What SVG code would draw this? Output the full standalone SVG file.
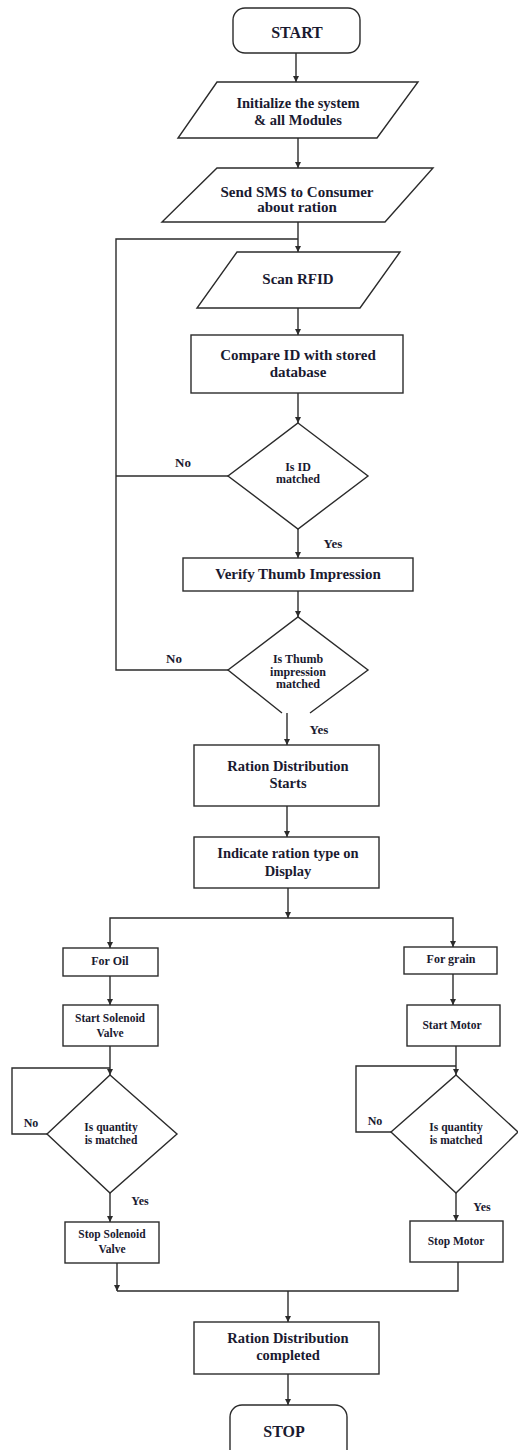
<svg xmlns="http://www.w3.org/2000/svg" width="518" height="1450" viewBox="0 0 518 1450">
<style>
.s{fill:#fff;stroke:#2b2b2b;stroke-width:1.4}
.c{fill:none;stroke:#2b2b2b;stroke-width:1.4}
text{font-family:"Liberation Serif","Times New Roman",serif;font-weight:bold;fill:#1a1a30;text-anchor:middle}
.f16{font-size:16px}.f15{font-size:15px}.f14{font-size:14.5px}.f12{font-size:12px}.f11{font-size:11.5px}.f13{font-size:13px}
</style>
<defs>
<marker id="ah" markerWidth="7" markerHeight="7" refX="6" refY="3" orient="auto" markerUnits="userSpaceOnUse">
<path d="M0,0 L6,3 L0,6 z" fill="#2b2b2b"/>
</marker>
</defs>
<rect width="518" height="1450" fill="#fff"/>
<g id="connectors" class="c">
<path d="M296,53 V82" marker-end="url(#ah)"/>
<path d="M298,138 V168" marker-end="url(#ah)"/>
<path d="M298,222 V252" marker-end="url(#ah)"/>
<path d="M298,308 V335" marker-end="url(#ah)"/>
<path d="M298,393 V423" marker-end="url(#ah)"/>
<path d="M298,529 V558" marker-end="url(#ah)"/>
<path d="M298,591 V617" marker-end="url(#ah)"/>
<path d="M287,713 V745" marker-end="url(#ah)"/>
<path d="M287,806 V837" marker-end="url(#ah)"/>
<path d="M288,888 V918" marker-end="url(#ah)"/>
<path d="M288,918 H110 V948" marker-end="url(#ah)"/>
<path d="M288,918 H453 V947" marker-end="url(#ah)"/>
<path d="M110,976 V1005" marker-end="url(#ah)"/>
<path d="M453,974 V1005" marker-end="url(#ah)"/>
<path d="M110,1046 V1075" marker-end="url(#ah)"/>
<path d="M456,1046 V1075" marker-end="url(#ah)"/>
<path d="M47,1134 H12 V1068 H110"/>
<path d="M391,1132 H356 V1066 H456"/>
<path d="M110,1193 V1222" marker-end="url(#ah)"/>
<path d="M456,1193 V1221" marker-end="url(#ah)"/>
<path d="M117,1263 V1291" marker-end="url(#ah)"/>
<path d="M458,1262 V1291 H117"/>
<path d="M288,1291 V1322" marker-end="url(#ah)"/>
<path d="M288,1374 V1405" marker-end="url(#ah)"/>
<path d="M228,476 H116"/>
<path d="M228,670 H116 V239 H298"/>
</g>
<g id="start"><rect class="s" x="233" y="8" width="127" height="45" rx="12"/><text class="f16" x="297" y="38">START</text></g>
<g id="init"><polygon class="s" points="217,82 418,82 377,138 178,138"/><text class="f14" x="298" y="108">Initialize the system</text><text class="f14" x="298" y="125">&amp; all Modules</text></g>
<g id="sms"><polygon class="s" points="217,168 433,168 385,222 162,222"/><text class="f15" x="297" y="197">Send SMS to Consumer</text><text class="f15" x="297" y="212">about ration</text></g>
<g id="scan"><polygon class="s" points="237,252 400,252 360,308 197,308"/><text class="f15" x="298" y="284">Scan RFID</text></g>
<g id="compare"><rect class="s" x="191" y="335" width="212" height="58"/><text class="f15" x="298" y="360">Compare ID with stored</text><text class="f15" x="298" y="377">database</text></g>
<g id="isid"><polygon class="s" points="298,423 368,476 298,529 228,476"/><text class="f12" x="298" y="471">Is ID</text><text class="f12" x="298" y="483">matched</text></g>
<text class="f13" x="183" y="467">No</text>
<text class="f13" x="333" y="548">Yes</text>
<g id="verify"><rect class="s" x="183" y="558" width="230" height="33"/><text class="f15" x="298" y="579">Verify Thumb Impression</text></g>
<g id="isthumb"><path class="s" d="M282,713 L228,670 L298,617 L368,670 L310,713"/><text class="f12" x="298" y="663">Is Thumb</text><text class="f12" x="298" y="676">impression</text><text class="f12" x="298" y="688">matched</text></g>
<text class="f13" x="174" y="663">No</text>
<text class="f13" x="319" y="734">Yes</text>
<g id="rstart"><rect class="s" x="194" y="745" width="185" height="61"/><text class="f14" x="288" y="771">Ration Distribution</text><text class="f14" x="288" y="788">Starts</text></g>
<g id="indicate"><rect class="s" x="194" y="837" width="185" height="51"/><text class="f14" x="288" y="858">Indicate ration type on</text><text class="f14" x="288" y="876">Display</text></g>
<g id="oil"><rect class="s" x="63" y="948" width="95" height="28"/><text class="f12" x="110" y="965">For Oil</text></g>
<g id="grain"><rect class="s" x="404" y="947" width="93" height="27"/><text class="f12" x="451" y="963">For grain</text></g>
<g id="startvalve"><rect class="s" x="63" y="1005" width="95" height="41"/><text class="f11" x="110" y="1022">Start Solenoid</text><text class="f11" x="110" y="1037">Valve</text></g>
<g id="startmotor"><rect class="s" x="407" y="1005" width="93" height="41"/><text class="f11" x="452" y="1029">Start Motor</text></g>
<g id="qty1"><polygon class="s" points="110,1075 177,1134 110,1193 47,1134"/><text class="f11" x="111" y="1131">Is quantity</text><text class="f11" x="111" y="1144">is matched</text></g>
<g id="qty2"><polygon class="s" points="456,1075 518,1132 456,1193 391,1132"/><text class="f11" x="456" y="1131">Is quantity</text><text class="f11" x="456" y="1144">is matched</text></g>
<text class="f12" x="31" y="1127">No</text>
<text class="f12" x="375" y="1125">No</text>
<text class="f12" x="140" y="1205">Yes</text>
<text class="f12" x="482" y="1211">Yes</text>
<g id="stopvalve"><rect class="s" x="65" y="1222" width="94" height="41"/><text class="f11" x="112" y="1238">Stop Solenoid</text><text class="f11" x="112" y="1253">Valve</text></g>
<g id="stopmotor"><rect class="s" x="410" y="1221" width="93" height="41"/><text class="f11" x="456" y="1245">Stop Motor</text></g>
<g id="rdone"><rect class="s" x="194" y="1322" width="185" height="52"/><text class="f14" x="288" y="1343">Ration Distribution</text><text class="f14" x="288" y="1360">completed</text></g>
<g id="stop"><rect class="s" x="230" y="1405" width="117" height="60" rx="12"/><text class="f16" x="284" y="1437">STOP</text></g>
</svg>
